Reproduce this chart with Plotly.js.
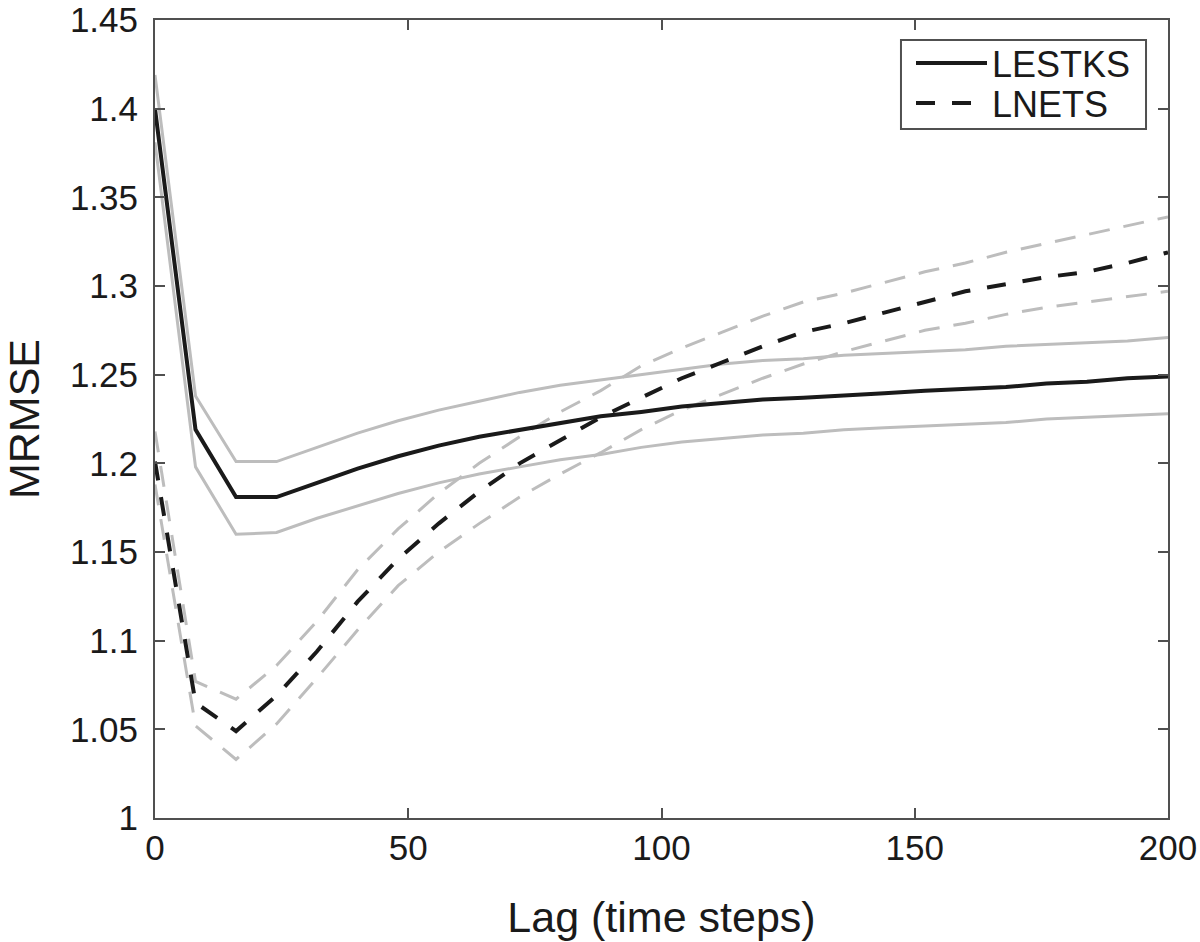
<!DOCTYPE html>
<html>
<head>
<meta charset="utf-8">
<script src="https://cdn.plot.ly/plotly-3.0.1.min.js"></script>
<style>
html,body{margin:0;padding:0;background:#fff;}
#chart{width:1200px;height:942px;}
</style>
</head>
<body>
<div id="chart"></div>
<script>
// Lag values (time steps)
const lags = [0, 8, 16, 24, 32, 40, 48, 56, 64, 72, 80, 88, 96, 104, 112, 120, 128, 136, 144, 152, 160, 168, 176, 184, 192, 200];

// LESTKS: mean and band
const lestksMean  = [1.400, 1.219, 1.181, 1.181, 1.189, 1.197, 1.204, 1.210, 1.215, 1.219, 1.223, 1.2265, 1.229, 1.232, 1.234, 1.236, 1.237, 1.238, 1.2395, 1.241, 1.242, 1.243, 1.245, 1.246, 1.248, 1.249];
const lestksUpper = [1.419, 1.238, 1.201, 1.201, 1.209, 1.217, 1.224, 1.230, 1.235, 1.240, 1.244, 1.247, 1.250, 1.253, 1.256, 1.258, 1.259, 1.261, 1.262, 1.263, 1.264, 1.266, 1.267, 1.268, 1.269, 1.271];
const lestksLower = [1.381, 1.198, 1.160, 1.161, 1.169, 1.176, 1.183, 1.189, 1.194, 1.198, 1.202, 1.205, 1.209, 1.212, 1.214, 1.216, 1.217, 1.219, 1.220, 1.221, 1.222, 1.223, 1.225, 1.226, 1.227, 1.228];

// LNETS: mean and band
const lnetsMean  = [1.201, 1.065, 1.049, 1.069, 1.094, 1.122, 1.146, 1.166, 1.184, 1.200, 1.213, 1.226, 1.237, 1.248, 1.257, 1.266, 1.274, 1.279, 1.285, 1.291, 1.297, 1.301, 1.305, 1.308, 1.313, 1.319];
const lnetsUpper = [1.218, 1.077, 1.067, 1.086, 1.111, 1.140, 1.163, 1.183, 1.200, 1.215, 1.229, 1.241, 1.255, 1.265, 1.274, 1.283, 1.291, 1.296, 1.302, 1.308, 1.313, 1.319, 1.324, 1.329, 1.334, 1.339];
const lnetsLower = [1.188, 1.052, 1.033, 1.053, 1.079, 1.106, 1.131, 1.150, 1.166, 1.181, 1.194, 1.206, 1.219, 1.230, 1.239, 1.248, 1.256, 1.263, 1.269, 1.275, 1.279, 1.284, 1.288, 1.291, 1.294, 1.297];

const seriesNames = ['LESTKS', 'LNETS'];

// Tick labels
const xTickVals = [0, 50, 100, 150, 200];
const xTickText = ['0', '50', '100', '150', '200'];
const yTickVals = [1, 1.05, 1.1, 1.15, 1.2, 1.25, 1.3, 1.35, 1.4, 1.45];
const yTickText = ['1', '1.05', '1.1', '1.15', '1.2', '1.25', '1.3', '1.35', '1.4', '1.45'];

const bandColor = '#bdbdbd';
const meanColor = '#1a1a1a';
const axisColor = '#505050';
const fontFam = 'Liberation Sans, Arial, Helvetica, sans-serif';

const traces = [
  {x: lags, y: lestksUpper, mode: 'lines', line: {color: bandColor, width: 3}, showlegend: false, hoverinfo: 'skip'},
  {x: lags, y: lestksLower, mode: 'lines', line: {color: bandColor, width: 3}, showlegend: false, hoverinfo: 'skip'},
  {x: lags, y: lnetsUpper, mode: 'lines', line: {color: bandColor, width: 3, dash: '21px,14px'}, showlegend: false, hoverinfo: 'skip'},
  {x: lags, y: lnetsLower, mode: 'lines', line: {color: bandColor, width: 3, dash: '21px,14px'}, showlegend: false, hoverinfo: 'skip'},
  {x: lags, y: lestksMean, mode: 'lines', name: seriesNames[0], legend: 'legend', line: {color: meanColor, width: 4}},
  {x: lags, y: lnetsMean, mode: 'lines', name: seriesNames[1], legend: 'legend2', line: {color: meanColor, width: 4, dash: '19px,17px'}}
];

const axisCommon = {
  showline: true, linecolor: axisColor, linewidth: 2,
  mirror: 'ticks', ticks: 'inside', ticklen: 10, tickwidth: 2, tickcolor: axisColor,
  showgrid: false, zeroline: false,
  tickfont: {family: fontFam, size: 35, color: '#1a1a1a'},
  fixedrange: true
};

const legendCommon = {
  xanchor: 'left', yanchor: 'middle',
  bgcolor: 'rgba(0,0,0,0)', borderwidth: 0,
  font: {family: fontFam, size: 36, color: '#1a1a1a'},
  itemwidth: 71
};

const layout = {
  width: 1200, height: 942,
  margin: {l: 155, r: 32, t: 20, b: 124},
  paper_bgcolor: '#ffffff', plot_bgcolor: '#ffffff',
  font: {family: fontFam, color: '#1a1a1a'},
  xaxis: Object.assign({}, axisCommon, {
    range: [0, 200], tickvals: xTickVals, ticktext: xTickText,
    ticklabelstandoff: -2,
    title: {text: 'Lag (time steps)', font: {family: fontFam, size: 43, color: '#1a1a1a'}, standoff: 36}
  }),
  yaxis: Object.assign({}, axisCommon, {
    range: [0.99999, 1.45001], tickvals: yTickVals, ticktext: yTickText,
    ticklabelstandoff: 8,
    ticklabeloverflow: 'allow',
    title: {text: 'MRMSE', font: {family: fontFam, size: 43, color: '#1a1a1a'}, standoff: 48}
  }),
  legend: Object.assign({}, legendCommon, {x: 0.7463, y: 0.9461}),
  legend2: Object.assign({}, legendCommon, {x: 0.7463, y: 0.8960}),
  shapes: [{
    type: 'rect', xref: 'paper', yref: 'paper',
    x0: 0.7364, x1: 0.9783, y0: 0.8634, y1: 0.9749,
    line: {color: axisColor, width: 2}, fillcolor: '#ffffff', layer: 'above'
  }],
  showlegend: true
};

Plotly.newPlot('chart', traces, layout, {displayModeBar: false, staticPlot: true});
</script>
</body>
</html>
